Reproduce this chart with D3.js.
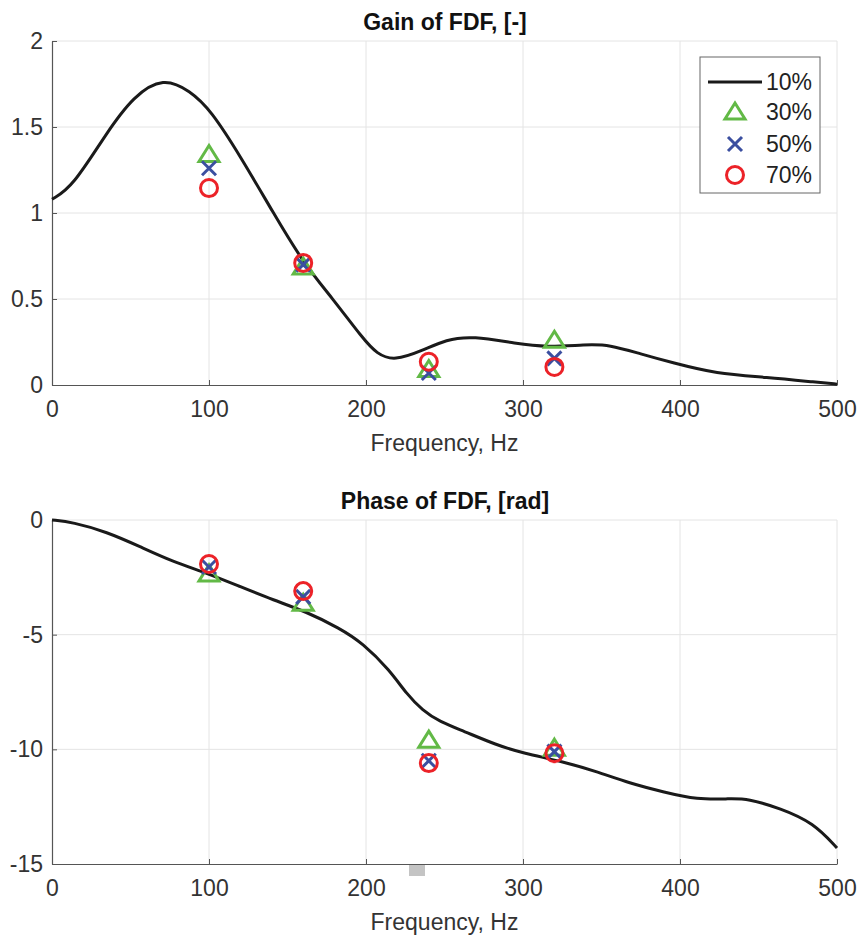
<!DOCTYPE html>
<html>
<head>
<meta charset="utf-8">
<script src="https://cdn.jsdelivr.net/npm/d3@7"></script>
<style>
  body { margin: 0; background: #fff; }
  svg text { font-family: "Liberation Sans", Arial, sans-serif; fill: #333; }
</style>
</head>
<body>
<div id="chart"></div>
<script>
// frequency points of the 10% curve
const gainFreq = [0, 13, 35, 52, 71, 88, 101, 120, 141, 160, 179, 198, 207, 218, 236, 251, 268, 296, 315, 340, 355, 375, 395, 423, 455, 488, 500];
const gainCurve = [1.08, 1.15, 1.47, 1.68, 1.79, 1.71, 1.60, 1.33, 1.0, 0.71, 0.50, 0.27, 0.18, 0.14, 0.20, 0.265, 0.285, 0.24, 0.22, 0.235, 0.235, 0.18, 0.13, 0.065, 0.045, 0.015, 0.005];

const phaseFreq = [0, 13, 35, 56, 77, 99, 120, 141, 162, 183, 198, 215, 226, 236, 247, 262, 283, 300, 326, 347, 368, 389, 411, 432, 443, 464, 485, 500];
const phaseCurve = [0, -0.09, -0.52, -1.16, -1.82, -2.32, -2.91, -3.49, -4.0, -4.71, -5.37, -6.54, -7.6, -8.3, -8.8, -9.2, -9.81, -10.17, -10.54, -10.97, -11.48, -11.85, -12.2, -12.15, -12.15, -12.57, -13.2, -14.3];

// measured points
const pointFreq = [100, 160, 240, 320];
const gain30 = [1.34, 0.686, 0.09, 0.26];
const gain50 = [1.26, 0.70, 0.07, 0.155];
const gain70 = [1.145, 0.71, 0.135, 0.105];
const phase30 = [-2.35, -3.63, -9.6, -9.95];
const phase50 = [-2.05, -3.35, -10.5, -10.1];
const phase70 = [-1.92, -3.1, -10.6, -10.17];

const xTicks = [0, 100, 200, 300, 400, 500];
const gainTicks = [0, 0.5, 1, 1.5, 2];
const phaseTicks = [-15, -10, -5, 0];
const legendLabels = ['10%', '30%', '50%', '70%'];

const colors = { line: '#1a1a1a', tri: '#62b946', cross: '#3b4fa0', circ: '#ec2228' };
const fontStack = '"Liberation Sans", Arial, sans-serif';

const svg = d3.select('#chart').append('svg')
    .attr('width', 859).attr('height', 937);

const x = d3.scaleLinear().domain([0, 500]).range([52, 837]);

function drawPanel(top, bottom, domain, ticks, title, freqs, curve, s30, s50, s70, fmt) {
    const y = d3.scaleLinear().domain(domain).range([bottom, top]);
    const g = svg.append('g');

    // grid
    g.selectAll('.vg').data(xTicks.slice(1)).enter().append('line')
        .attr('x1', d => x(d)).attr('x2', d => x(d))
        .attr('y1', top).attr('y2', bottom)
        .style('stroke', '#e4e4e4').style('stroke-width', 1);
    g.selectAll('.hg').data(ticks.slice(1)).enter().append('line')
        .attr('x1', x(0)).attr('x2', x(500))
        .attr('y1', d => y(d)).attr('y2', d => y(d))
        .style('stroke', '#e4e4e4').style('stroke-width', 1);

    // axes (ticks pointing inward)
    const xAxis = g.append('g').attr('transform', `translate(0,${bottom})`)
        .call(d3.axisBottom(x).tickValues(xTicks).tickSizeInner(-5).tickSizeOuter(0).tickPadding(16));
    const yAxis = g.append('g').attr('transform', `translate(${x(0)},0)`)
        .call(d3.axisLeft(y).tickValues(ticks).tickFormat(fmt).tickSizeInner(-5).tickSizeOuter(0).tickPadding(9));
    [xAxis, yAxis].forEach(a => {
        a.select('.domain').style('stroke', '#555').style('stroke-width', 1.2);
        a.selectAll('.tick line').style('stroke', '#555');
        a.selectAll('.tick text').style('font-size', '23px').style('fill', '#333')
            .style('font-family', fontStack);
    });

    // titles
    g.append('text').attr('x', 445).attr('y', top - 11)
        .attr('text-anchor', 'middle')
        .style('font-size', '23px').style('font-weight', 'bold').style('fill', '#111')
        .text(title);
    g.append('text').attr('x', x(250)).attr('y', bottom + 66)
        .attr('text-anchor', 'middle')
        .style('font-size', '23px')
        .text('Frequency, Hz');

    // curve
    const line = d3.line()
        .x((d, i) => x(freqs[i]))
        .y(d => y(d))
        .curve(d3.curveBasis);
    g.append('path').datum(curve)
        .attr('d', line)
        .style('fill', 'none').style('stroke', colors.line).style('stroke-width', 3);

    // markers
    drawMarkers(g, pointFreq.map((f, i) => [x(f), y(s30[i])]), 'tri');
    drawMarkers(g, pointFreq.map((f, i) => [x(f), y(s50[i])]), 'cross');
    drawMarkers(g, pointFreq.map((f, i) => [x(f), y(s70[i])]), 'circ');
}

function markerPath(type) {
    if (type === 'tri') return 'M0,-9L10,7L-10,7Z';
    if (type === 'cross') return 'M-7,-7L7,7M-7,7L7,-7';
    return null;
}

function drawMarkers(g, pts, type) {
    pts.forEach(p => {
        if (type === 'circ') {
            g.append('circle').attr('cx', p[0]).attr('cy', p[1]).attr('r', 8.5)
                .style('fill', 'none').style('stroke', colors.circ).style('stroke-width', 3);
        } else {
            g.append('path').attr('d', markerPath(type))
                .attr('transform', `translate(${p[0]},${p[1]})`)
                .style('fill', 'none').style('stroke', colors[type]).style('stroke-width', 3)
                .style('stroke-linejoin', 'miter');
        }
    });
}

drawPanel(41, 385, [0, 2], gainTicks, 'Gain of FDF, [-]',
    gainFreq, gainCurve, gain30, gain50, gain70, d => d === 0 ? '0' : String(d));
drawPanel(520, 864, [-15, 0], phaseTicks, 'Phase of FDF, [rad]',
    phaseFreq, phaseCurve, phase30, phase50, phase70, d => d < 0 ? '-' + Math.abs(d) : String(d));

// small grey patch under the lower axis
svg.append('rect').attr('x', 409).attr('y', 865).attr('width', 16).attr('height', 11)
    .style('fill', '#c4c4c4');

// legend
const leg = svg.append('g');
leg.append('rect').attr('x', 700).attr('y', 57).attr('width', 120).attr('height', 136)
    .style('fill', '#fff').style('stroke', '#666').style('stroke-width', 1);
const rows = [82, 112, 144, 175];
const types = ['line', 'tri', 'cross', 'circ'];
types.forEach((t, i) => {
    const cy = rows[i];
    if (t === 'line') {
        leg.append('line').attr('x1', 708).attr('x2', 762).attr('y1', cy).attr('y2', cy)
            .style('stroke', colors.line).style('stroke-width', 3);
    } else {
        drawMarkers(leg, [[735, cy]], t);
    }
    leg.append('text').attr('x', 766).attr('y', cy + 8)
        .style('font-size', '23px').style('fill', '#222')
        .style('font-family', fontStack)
        .text(legendLabels[i]);
});
</script>
</body>
</html>
